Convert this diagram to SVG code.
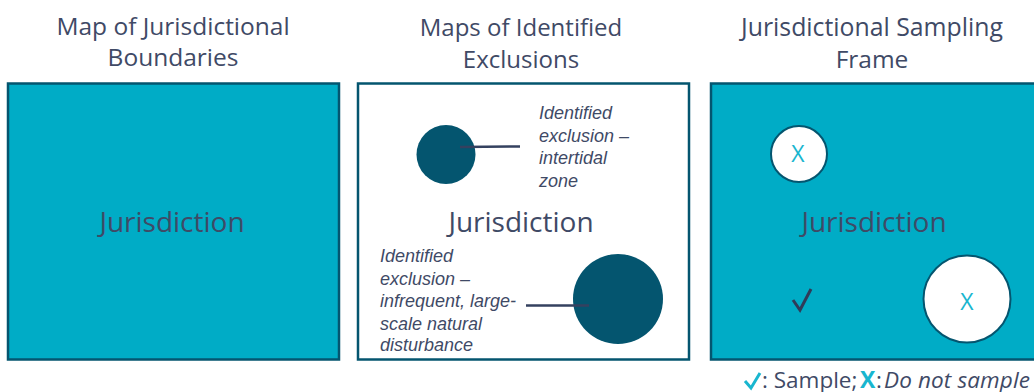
<svg xmlns="http://www.w3.org/2000/svg" width="1034" height="392" viewBox="0 0 1034 392">
<style>
text{font-family:"Open Sans","Liberation Sans",sans-serif;fill:#3f4a66}
.t{font-size:24.500px;text-anchor:middle}
.j{font-size:28px;text-anchor:middle}
.n{font-family:"Liberation Sans",Arial,sans-serif;font-size:18px;font-style:italic}
.box{stroke:#04556f;stroke-width:2.5}
.lk{stroke:#34415f;stroke-width:2.5;fill:none}
.x{fill:#19b6cf}
</style>
<rect width="1034" height="392" fill="#fff"/>
<g id="title1"><text class="t" x="173" y="35">Map of Jurisdictional</text><text class="t" x="173" y="66">Boundaries</text></g>
<g id="title2"><text class="t" x="521" y="36" style="font-size:24px">Maps of Identified</text><text class="t" x="521" y="68" style="font-size:24px">Exclusions</text></g>
<g id="title3"><text class="t" x="872" y="36" style="font-size:24.800px">Jurisdictional Sampling</text><text class="t" x="872" y="68">Frame</text></g>
<g id="panel1"><rect class="box" x="8" y="83.500" width="331" height="276" fill="#00acc6"/><text class="j" x="172" y="232">Jurisdiction</text></g>
<g id="panel2"><rect class="box" x="358" y="83.500" width="331" height="276" fill="#fff"/><text class="j" x="521" y="232">Jurisdiction</text></g>
<g id="panel3"><rect class="box" x="711" y="83.500" width="331" height="276" fill="#00acc6"/><text class="j" x="874" y="232">Jurisdiction</text></g>
<g id="exclusion1"><circle cx="446" cy="154.500" r="29.500" fill="#04556f"/></g>
<g id="exclusion2"><circle cx="618" cy="299" r="45" fill="#04556f"/></g>
<g id="label1"><text class="n" x="539" y="119">Identified</text><text class="n" x="539" y="142">exclusion –</text><text class="n" x="539" y="164">intertidal</text><text class="n" x="539" y="187">zone</text></g>
<g id="label2"><text class="n" x="380" y="262">Identified</text><text class="n" x="380" y="285">exclusion –</text><text class="n" x="380" y="307">infrequent, large-</text><text class="n" x="380" y="330">scale natural</text><text class="n" x="380" y="351">disturbance</text></g>
<g id="connectors"><path class="lk" d="M460 147L520 146.500"/><path class="lk" d="M526 305.500H589"/></g>
<g id="sample-x1"><circle cx="799" cy="154" r="28" fill="#fff" stroke="#04556f" stroke-width="2"/><text class="x" x="798" y="162" font-size="23" text-anchor="middle">X</text></g>
<g id="sample-x2"><circle cx="967" cy="299" r="43.500" fill="#fff" stroke="#04556f" stroke-width="2"/><text class="x" x="967" y="310" font-size="23" text-anchor="middle">X</text></g>
<g id="sample-check"><path d="M793 300L800 310L811 289" fill="none" stroke="#2f3b58" stroke-width="3"/></g>
<g id="legend"><path d="M745 381L751 388L760 373" fill="none" stroke="#19b6cf" stroke-width="3"/><text x="762" y="388" font-size="22.500">: Sample; </text><text class="x" x="860" y="388" font-size="23" font-weight="700">X</text><text x="876" y="388" font-size="22.500">: </text><text x="884" y="388" font-size="22.500" font-style="italic" textLength="146">Do not sample</text></g>
</svg>
